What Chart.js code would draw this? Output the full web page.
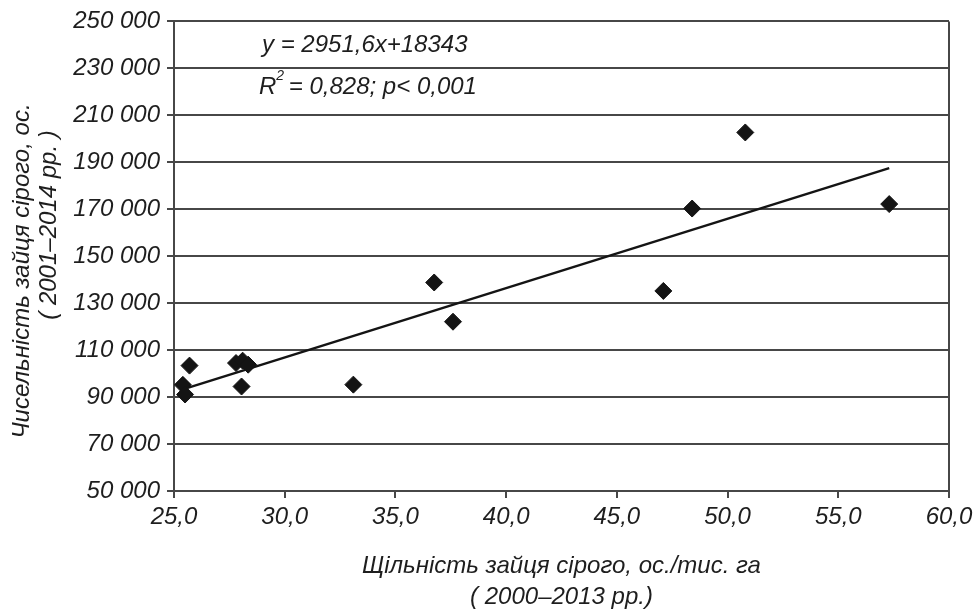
<!DOCTYPE html>
<html>
<head>
<meta charset="utf-8">
<script src="https://cdn.jsdelivr.net/npm/chart.js@4"></script>
<style>
  html, body { margin: 0; padding: 0; background: #fff; }
  #wrap { width: 979px; height: 609px; }
</style>
</head>
<body>
<div id="wrap"><canvas id="chart" width="979" height="609"></canvas></div>
<script>
// density, ind./thousand ha (2000-2013) vs. numbers (2001-2014)
const density = [25.7, 25.4, 25.5, 27.8, 28.1, 28.35, 28.05, 33.1, 36.75, 37.6, 47.1, 48.4, 50.8, 57.3];
const numbers = [103400, 95200, 91100, 104500, 105500, 103800, 94500, 95300, 138800, 122100, 135200, 170300, 202700, 172200];

// trend line ends
const trendX = [25.4, 57.3];
const trendY = [93300, 187500];

const xTicks = { min: 25, max: 60, step: 5 };
const yTicks = { min: 50000, max: 250000, step: 20000 };

const xTitle = ['Щільність зайця сірого, ос./тис. га', '( 2000–2013 рр.)'];
const yTitle = ['Чисельність зайця сірого, ос.', '( 2001–2014 рр. )'];
const eqLine = 'y = 2951,6x+18343';
const r2Line = ['R', '2', ' = 0,828; p< 0,001'];

const FONT = '"Liberation Sans", Arial, sans-serif';
const INK = '#1e1e1e';
const GRID = '#474747';

const points = density.map((d, i) => ({ x: d, y: numbers[i] }));
const trend = trendX.map((d, i) => ({ x: d, y: trendY[i] }));

const fmtThousands = v => String(v).replace(/\B(?=(\d{3})+(?!\d))/g, ' ');

// y title (two lines, rotated) and the equation text
const textPlugin = {
    id: 'textPlugin',
    afterDraw: (chart) => {
        const { ctx } = chart;
        ctx.save();
        ctx.fillStyle = INK;
        ctx.textBaseline = 'middle';

        // rotated y title
        ctx.font = 'italic 24px ' + FONT;
        ctx.textAlign = 'center';
        const yLines = [{ x: 22, y: 271 }, { x: 49, y: 225 }];
        yTitle.forEach((t, i) => {
            ctx.save();
            ctx.translate(yLines[i].x, yLines[i].y);
            ctx.rotate(-Math.PI / 2);
            ctx.fillText(t, 0, 0);
            ctx.restore();
        });

        // equation
        ctx.textAlign = 'left';
        ctx.font = 'italic 24px ' + FONT;
        ctx.fillText(eqLine, 262, 45);
        let x = 259;
        ctx.fillText(r2Line[0], x, 87);
        x += ctx.measureText(r2Line[0]).width;
        ctx.font = 'italic 14px ' + FONT;
        ctx.fillText(r2Line[1], x, 76);
        x += ctx.measureText(r2Line[1]).width - 2;
        ctx.font = 'italic 24px ' + FONT;
        ctx.fillText(r2Line[2], x, 87);

        ctx.restore();
    }
};

new Chart(document.getElementById('chart'), {
    type: 'scatter',
    data: {
        datasets: [{
            label: 'points',
            data: points,
            pointStyle: 'rectRot',
            pointRadius: 8.5,
            pointHoverRadius: 8.5,
            backgroundColor: '#141414',
            borderColor: '#141414',
            borderWidth: 1,
            order: 1
        }, {
            type: 'line',
            label: 'trend',
            data: trend,
            borderColor: '#141414',
            borderWidth: 2.5,
            pointRadius: 0,
            fill: false,
            order: 2
        }]
    },
    options: {
        responsive: false,
        animation: false,
        events: [],
        layout: { padding: { left: 0, right: 30, top: 20, bottom: 0 } },
        plugins: {
            legend: { display: false },
            tooltip: { enabled: false }
        },
        scales: {
            x: {
                type: 'linear',
                min: xTicks.min,
                max: xTicks.max,
                afterFit: (scale) => { scale.height = 118; },
                ticks: {
                    stepSize: xTicks.step,
                    padding: 5,
                    color: INK,
                    font: { family: FONT, size: 24, style: 'italic' },
                    callback: v => v.toFixed(1).replace('.', ',')
                },
                grid: {
                    color: c => (c.tick && c.tick.value === xTicks.max) ? GRID : 'rgba(0,0,0,0)',
                    lineWidth: 2,
                    tickColor: GRID,
                    tickLength: 7
                },
                border: { color: GRID, width: 2 },
                title: {
                    display: true,
                    text: xTitle,
                    color: INK,
                    font: { family: FONT, size: 24, style: 'italic', lineHeight: 1.3 },
                    padding: { top: 0, bottom: -4 }
                }
            },
            y: {
                type: 'linear',
                min: yTicks.min,
                max: yTicks.max,
                afterFit: (scale) => { scale.width = 174; },
                ticks: {
                    stepSize: yTicks.step,
                    padding: 7,
                    color: INK,
                    font: { family: FONT, size: 24, style: 'italic' },
                    callback: v => fmtThousands(v)
                },
                grid: {
                    color: GRID,
                    lineWidth: 2,
                    tickColor: GRID,
                    tickLength: 7
                },
                border: { color: GRID, width: 2 }
            }
        }
    },
    plugins: [textPlugin]
});
</script>
</body>
</html>
